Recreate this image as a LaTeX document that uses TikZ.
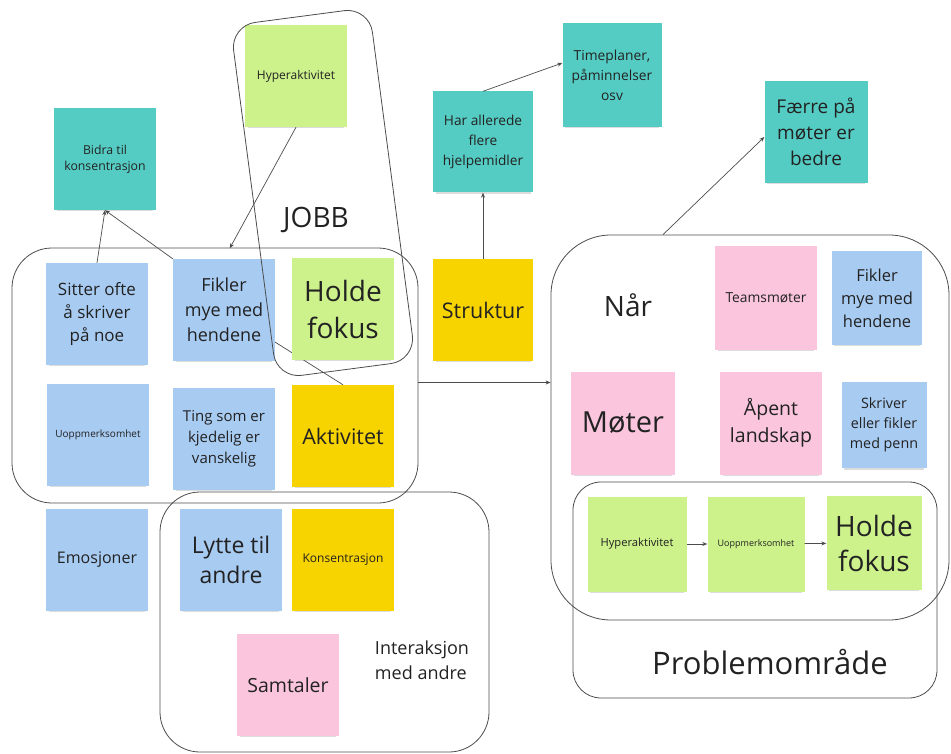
\documentclass[tikz,border=0pt]{standalone}
\usepackage{fontspec}
\setmainfont{Open Sans}
\usetikzlibrary{arrows.meta,backgrounds,shadows}

\definecolor{stTeal}{HTML}{55CCC3}
\definecolor{stBlue}{HTML}{A8CBF2}
\definecolor{stGreen}{HTML}{CDF28C}
\definecolor{stYellow}{HTML}{F7D300}
\definecolor{stPink}{HTML}{FAC5DD}
\definecolor{ink}{HTML}{222222}

\newcommand{\fsz}[2]{\fontsize{#1}{#2}\selectfont}

\tikzset{
  note/.style={rectangle, minimum width=102pt, minimum height=102pt, inner sep=2pt,
    align=center, text=ink,
    drop shadow={opacity=0.28, shadow xshift=0pt, shadow yshift=-4pt, shadow scale=0.95}},
  grp/.style={draw=black!70, line width=0.8pt, inner sep=0pt},
  conn/.style={draw=black!70, line width=0.7pt, -{Stealth[length=5pt,width=4pt]}},
  plain/.style={draw=black!70, line width=0.7pt},
}

\begin{document}
\begin{tikzpicture}[x=1pt,y=-1pt]
    \useasboundingbox (0,0) rectangle (951,754);

    \node[note, fill=stGreen, font=\fsz{12}{16}] (hypTop) at (296,76) {Hyperaktivitet};
    \node[note, fill=stTeal, font=\fsz{12.3}{16}] (bidra) at (105,159) {Bidra til\\konsentrasjon};
    \node[note, fill=stBlue, font=\fsz{17}{23}] (sitter) at (97,314) {Sitter ofte\\å skriver\\på noe};
    \node[note, fill=stBlue, font=\fsz{18}{25}] (fikL) at (224,310) {Fikler\\mye med\\hendene};
    \node[note, fill=stGreen, font=\fsz{28}{37}] (holdeL) at (343,309) {Holde\\fokus};
    \node[note, fill=stBlue, font=\fsz{10}{13}] (uoppL) at (98,435) {Uoppmerksomhet};
    \node[note, fill=stBlue, font=\fsz{15}{21}] (ting) at (224,439) {Ting som er\\kjedelig er\\vanskelig};
    \node[note, fill=stYellow, font=\fsz{21.5}{28}] (aktiv) at (343,436) {Aktivitet};
    \node[note, fill=stBlue, font=\fsz{16}{21}] (emo) at (97,560) {Emosjoner};
    \node[note, fill=stBlue, font=\fsz{23}{30}] (lytte) at (231,560) {Lytte til\\andre};
    \node[note, fill=stYellow, font=\fsz{12}{16}] (kons) at (343,560) {Konsentrasjon};
    \node[note, fill=stPink, font=\fsz{19.5}{26}] (samt) at (288,685) {Samtaler};

    \node[note, fill=stTeal, minimum width=100pt, minimum height=101pt, font=\fsz{13.7}{20}] (harAll) at (483,142) {Har allerede\\flere\\hjelpemidler};
    \node[note, fill=stTeal, minimum width=99pt, minimum height=104pt, font=\fsz{13.8}{20}] (time) at (612,75) {Timeplaner,\\påminnelser\\osv};
    \node[note, fill=stTeal, minimum width=103pt, font=\fsz{19}{26}] (faerre) at (816,132) {Færre på\\møter er\\bedre};
    \node[note, fill=stYellow, minimum width=100pt, font=\fsz{21.5}{28}] (struktur) at (483,310) {Struktur};
    \node[note, fill=stPink, minimum height=103pt, font=\fsz{13.8}{18}] (teams) at (766,298) {Teamsmøter};
    \node[note, fill=stBlue, minimum width=90pt, minimum height=93pt, font=\fsz{16.5}{23}] (fikR) at (877,298) {Fikler\\mye med\\hendene};
    \node[note, fill=stPink, minimum width=104pt, minimum height=103pt, font=\fsz{29}{36}] (moter) at (623,423) {Møter};
    \node[note, fill=stPink, minimum height=103pt, font=\fsz{19.5}{27}] (apent) at (771,423) {Åpent\\landskap};
    \node[note, fill=stBlue, minimum width=85pt, minimum height=86pt, font=\fsz{14.3}{20}] (skriver) at (884,425) {Skriver\\eller fikler\\med penn};
    \node[note, fill=stGreen, minimum width=99pt, minimum height=95pt, font=\fsz{11.2}{14}] (hypR) at (637,544) {Hyperaktivitet};
    \node[note, fill=stGreen, minimum width=97pt, minimum height=95pt, font=\fsz{9}{12}] (uoppR) at (756,544) {Uoppmerksomhet};
    \node[note, fill=stGreen, minimum width=95pt, minimum height=94pt, font=\fsz{28}{35}] (holdeR) at (874,543) {Holde\\fokus};

    \node[text=ink, font=\fsz{28}{34}] (jobbLbl) at (316,220) {JOBB};
    \node[text=ink, font=\fsz{28}{34}] (naarLbl) at (628,305) {Når};
    \node[text=ink, font=\fsz{31}{38}] (probLbl) at (770,662) {Problemområde};
    \node[text=ink, font=\fsz{18}{25}, align=left] (interLbl) at (422,660) {Interaksjon\\med andre};

    \node[grp, rounded corners=40pt, minimum width=406pt, minimum height=255pt] (jobbGrp) at (215,375.5) {};
    \node[grp, rounded corners=25pt, minimum width=140pt, minimum height=356pt, rotate=7.5] (fokusGrp) at (323,193) {};
    \node[grp, rounded corners=40pt, minimum width=329pt, minimum height=260pt] (interGrp) at (324.5,622) {};
    \node[grp, rounded corners=60pt, minimum width=398pt, minimum height=385pt] (naarGrp) at (750,427.5) {};
    \node[grp, rounded corners=28pt, minimum width=364pt, minimum height=216pt] (probGrp) at (755,590) {};

    \draw[conn] (sitter.north) -- (bidra.south);
    \draw[conn] (fikL.north west) -- (bidra.south);
    \draw[conn, shorten >=12pt] (hypTop.south) -- (fikL.north);
    \begin{scope}[on background layer]
    \draw[plain] (fikL.center) -- (aktiv.north);
    \end{scope}
    \draw[conn] (struktur.north) -- (harAll.south);
    \draw[conn] (harAll.north) -- ([yshift=12pt]time.west);
    \draw[conn] ([xshift=-87pt]naarGrp.north) -- ([yshift=-5pt]faerre.west);
    \draw[conn] ([yshift=-7pt]jobbGrp.east) -- ([yshift=-7pt]jobbGrp.east -| naarGrp.west);
    \draw[conn] (hypR) -- (uoppR);
    \draw[conn] (uoppR) -- (holdeR);
\end{tikzpicture}
\end{document}
